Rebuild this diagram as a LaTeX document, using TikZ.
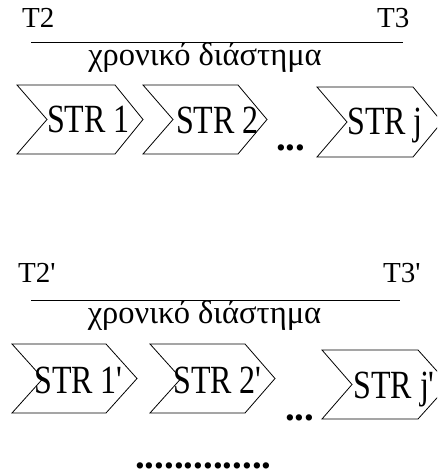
\documentclass[tikz,border=0pt]{standalone}
\usepackage{fontspec}
\setmainfont{Liberation Serif}
\begin{document}
\begin{tikzpicture}[x=1pt,y=-1pt,
  chev/.style={draw=black,line width=0.8pt,line join=miter},
  sep/.style={draw=black,line width=0.8pt},
  tlabel/.style={inner sep=0pt,anchor=base west,font=\fontsize{29}{30}\selectfont},
  greek/.style={inner sep=0pt,anchor=base,font=\fontsize{32.5}{33}\selectfont},
  strlabel/.style={inner sep=0pt,anchor=base,font=\fontsize{40}{41}\selectfont},
  dotsl/.style={inner sep=0pt,anchor=base west,font=\fontsize{39}{40}\selectfont\bfseries}]
\clip (0,0) rectangle (437,476);
\fill[white] (0,0) rectangle (437,476);
% ---------- upper block ----------
\node[tlabel] (t2) at (22,28) {T2};
\node[tlabel] (t3) at (377,28) {T3};
\coordinate (l1a) at (31,42.3);
\coordinate (l1b) at (403,42.3);
\draw[sep] (l1a) -- (l1b);
\node[greek] (g1) at (205,66) {χρονικό διάστημα};
\draw[chev] (17,85) -- (115,85) -- (143,119.5) -- (115,154) -- (17,154) -- (47,119.5) -- cycle;
\draw[chev] (143,85) -- (238,85) -- (267,119.5) -- (238,154) -- (143,154) -- (173,119.5) -- cycle;
\draw[chev] (317,87) -- (413,87) -- (442,122) -- (413,157) -- (317,157) -- (347,122) -- cycle;
\node[strlabel] (s1) at (88.5,132) {\scalebox{0.8}[1]{STR 1}};
\node[strlabel] (s2) at (217.5,133) {\scalebox{0.8}[1]{STR 2}};
\node[strlabel] (sj) at (385,135) {\scalebox{0.8}[1]{STR j}};
\node[dotsl] (d1) at (276,150) {...};
% ---------- lower block ----------
\node[tlabel] (t2p) at (18,282) {T2\textquotesingle};
\node[tlabel] (t3p) at (383,282) {T3\textquotesingle};
\coordinate (l2a) at (31,300);
\coordinate (l2b) at (400,300);
\draw[sep] (l2a) -- (l2b);
\node[greek] (g2) at (204.5,323) {χρονικό διάστημα};
\draw[chev] (12,344) -- (106,344) -- (137,378.5) -- (106,413) -- (12,413) -- (43,378.5) -- cycle;
\draw[chev] (150,344) -- (245,344) -- (275,378.5) -- (245,413) -- (150,413) -- (181,378.5) -- cycle;
\draw[chev] (322,350) -- (418,350) -- (449,384.5) -- (418,419) -- (322,419) -- (352,384.5) -- cycle;
\node[strlabel] (s1p) at (78.5,393) {\scalebox{0.8}[1]{STR 1\textquotesingle}};
\node[strlabel] (s2p) at (217.5,393) {\scalebox{0.8}[1]{STR 2\textquotesingle}};
\node[strlabel] (sjp) at (394,398) {\scalebox{0.8}[1]{STR j\textquotesingle}};
\node[dotsl] (d2) at (285,420) {...};
\node[dotsl] (d3) at (135,468) {..............};
\end{tikzpicture}
\end{document}
